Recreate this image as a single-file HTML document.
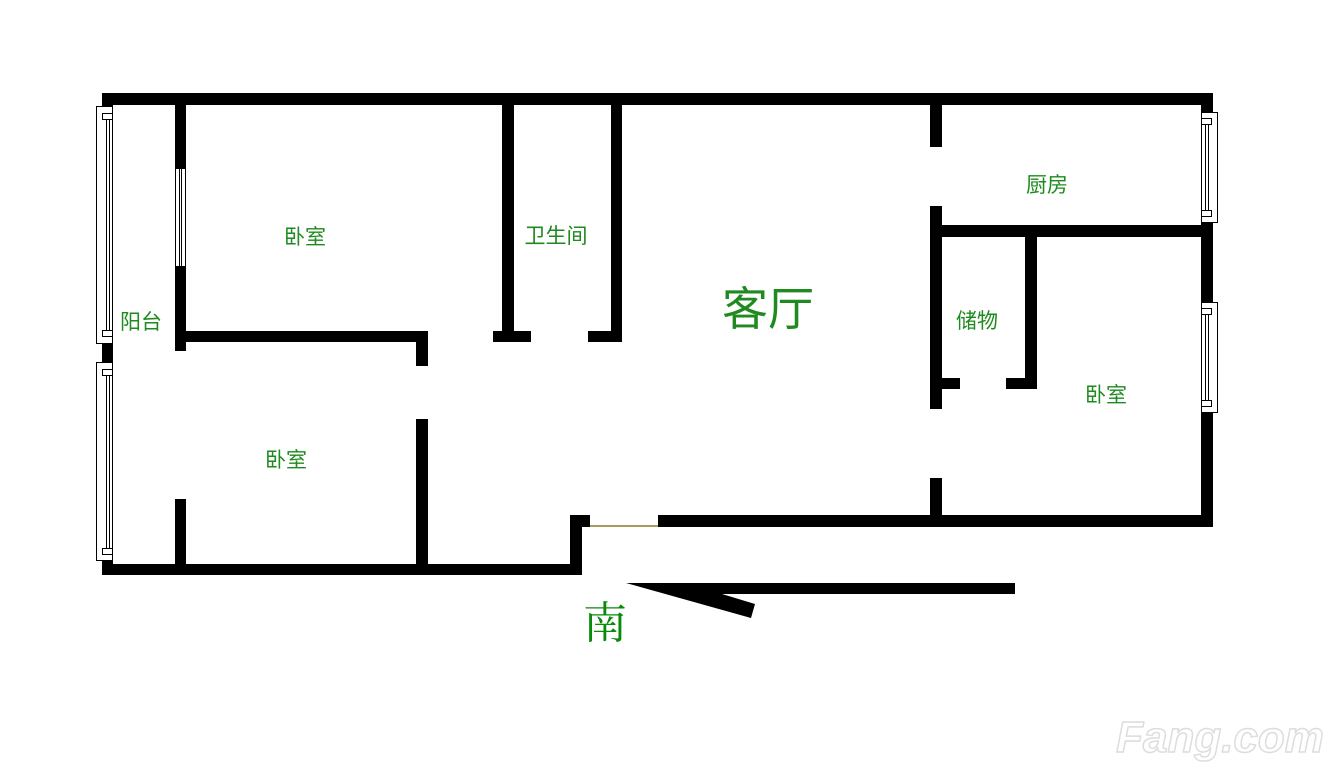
<!DOCTYPE html>
<html><head><meta charset="utf-8"><style>
html,body{margin:0;padding:0;background:#fff;width:1330px;height:781px;overflow:hidden}
</style></head><body>
<svg width="1330" height="781" viewBox="0 0 1330 781" xmlns="http://www.w3.org/2000/svg">
<g fill="#000">
<rect x="102" y="93" width="1111" height="12"/>
<rect x="102" y="93" width="11" height="482"/>
<rect x="102" y="564" width="480" height="11"/>
<rect x="175" y="104" width="11" height="64"/>
<rect x="175" y="266" width="11" height="85"/>
<rect x="175" y="499" width="11" height="76"/>
<rect x="175" y="331" width="253" height="11"/>
<rect x="416" y="331" width="12" height="35"/>
<rect x="416" y="419" width="12" height="156"/>
<rect x="502" y="104" width="12" height="238"/>
<rect x="493" y="331" width="38" height="11"/>
<rect x="611" y="104" width="11" height="238"/>
<rect x="588" y="331" width="34" height="11"/>
<rect x="570" y="515" width="12" height="60"/>
<rect x="570" y="515" width="20" height="12"/>
<rect x="658" y="515" width="555" height="12"/>
<rect x="930" y="104" width="12" height="43"/>
<rect x="930" y="206" width="12" height="203"/>
<rect x="930" y="478" width="12" height="40"/>
<rect x="930" y="225" width="283" height="12"/>
<rect x="1025" y="237" width="12" height="152"/>
<rect x="942" y="378" width="18" height="11"/>
<rect x="1006" y="378" width="31" height="11"/>
<rect x="1201" y="93" width="12" height="434"/>
<polygon points="626,583 1015,583 1015,594 722,594 755,604 751,618"/>
</g>
<line x1="590" y1="526" x2="658" y2="526" stroke="#8a7a2a" stroke-width="1.5"/>
<g fill="#fff" stroke="#000" stroke-width="1">
<rect x="96.5" y="106.5" width="16" height="237"/>
<rect x="102.5" y="113.5" width="10" height="6"/>
<rect x="102.5" y="330.5" width="10" height="6"/>
<rect x="106.5" y="119.5" width="3" height="211"/>
<rect x="96.5" y="362.5" width="16" height="198"/>
<rect x="102.5" y="369.5" width="10" height="6"/>
<rect x="102.5" y="548.5" width="10" height="6"/>
<rect x="106.5" y="375.5" width="3" height="173"/>
<rect x="175.5" y="168.5" width="10" height="98"/>
<rect x="179.5" y="168.5" width="2" height="98"/>
<rect x="1201.5" y="112.5" width="16" height="110"/>
<rect x="1201.5" y="118.5" width="10" height="6"/>
<rect x="1201.5" y="210.5" width="10" height="6"/>
<rect x="1205.5" y="124.5" width="3" height="86"/>
<rect x="1201.5" y="302.5" width="16" height="110"/>
<rect x="1201.5" y="308.5" width="10" height="6"/>
<rect x="1201.5" y="400.5" width="10" height="6"/>
<rect x="1205.5" y="314.5" width="3" height="86"/>
</g>
<g fill="#1f8a1f" font-family="'Liberation Sans','Noto Sans CJK SC',sans-serif" text-anchor="middle">
<text x="305" y="244" font-size="21">卧室</text>
<text x="556" y="243" font-size="21">卫生间</text>
<text x="768" y="325" font-size="46">客厅</text>
<text x="1047" y="192" font-size="21">厨房</text>
<text x="977" y="328" font-size="21">储物</text>
<text x="1106" y="402" font-size="21">卧室</text>
<text x="141" y="329" font-size="21">阳台</text>
<text x="286" y="467" font-size="21">卧室</text>
</g>
<text x="605" y="638" font-size="44" fill="#0a8a0a" text-anchor="middle" font-family="'Noto Serif CJK SC',serif">南</text>
<text x="1220" y="752" font-size="44" font-weight="bold" font-style="italic" fill="#fff" stroke="#ddd" stroke-width="1.5" text-anchor="middle" font-family="'Liberation Sans',sans-serif">Fang.com</text>
</svg>
</body></html>
